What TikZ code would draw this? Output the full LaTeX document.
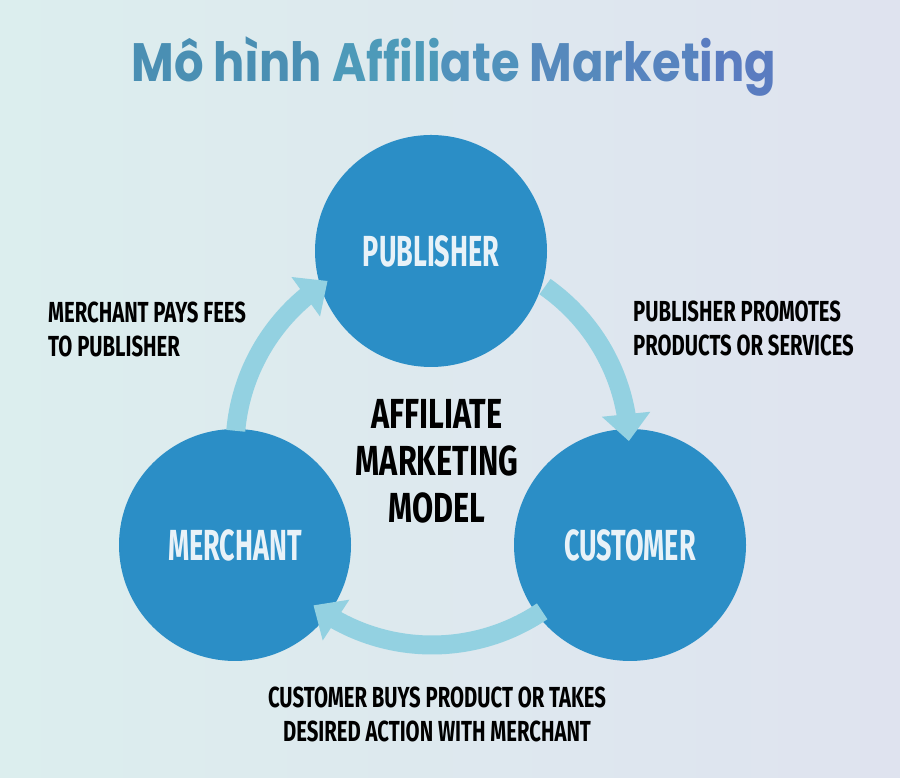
\documentclass[tikz,border=0pt]{standalone}
\usepackage{fontspec}
\usepackage{tikz}
\usetikzlibrary{arrows.meta,bending,calc,positioning}
\setmainfont{Fira Sans}
\newfontfamily\condfont{Fira Sans}[FakeStretch=0.62]
\newfontfamily\notefont{Fira Sans}[FakeStretch=0.70]
\newfontfamily\modelfont{Fira Sans}[FakeStretch=0.73]
\newfontfamily\titlefont{Poppins}[FakeStretch=0.86]
\definecolor{partyblue}{HTML}{2B8EC6}
\definecolor{flowblue}{HTML}{93D1E1}
\definecolor{bgleft}{HTML}{DCEEEE}
\definecolor{bgright}{HTML}{DFE3EF}
\definecolor{labelwhite}{HTML}{E8F2F8}
\definecolor{titleA}{HTML}{4A8FB3}
\definecolor{titleB}{HTML}{4D9AB9}
\definecolor{titleC}{HTML}{5092BC}
\definecolor{titleD}{HTML}{5689BC}
\definecolor{titleE}{HTML}{5784BF}
\definecolor{titleF}{HTML}{5A7CC0}
\tikzstyle{party}=[circle,fill=partyblue,minimum size=232pt,inner sep=0pt,text=labelwhite,font=\condfont\bfseries\fontsize{43.5}{48}\selectfont]
\tikzstyle{flow}=[flowblue,line width=19pt,-{Triangle[width=47pt,length=27pt]}]
\tikzstyle{note}=[inner sep=0pt,text=black,font=\notefont\bfseries\fontsize{29}{33.5}\selectfont]

\begin{document}
\begin{tikzpicture}[x=1pt,y=1pt]
  \shade[left color=bgleft,right color=bgright] (0,0) rectangle (900,778);
  \useasboundingbox (0,0) rectangle (900,778);

  \node[inner sep=0pt,anchor=base,font=\titlefont\bfseries\fontsize{54}{60}\selectfont] (title) at (454,696)
    {\textcolor{titleA}{Mô hình} \textcolor{titleB}{Affili}\textcolor{titleC}{ate} \textcolor{titleD}{Mar}\textcolor{titleE}{ket}\textcolor{titleF}{ing}};

  \node[party] (publisher) at (431,527) {PUBLISHER};
  \node[party] (merchant)  at (235,233) {MERCHANT};
  \node[party] (customer)  at (630,233) {CUSTOMER};
  \coordinate (hub) at (432,330);

  \draw[flow] ($(hub)+(55:197)$)  arc[start angle=55,end angle=2,radius=197];
  \draw[flow] ($(hub)+(-56:197)$) arc[start angle=-56,end angle=-127,radius=197];
  \draw[flow] ($(hub)+(175:197)$) arc[start angle=175,end angle=122,radius=197];

  \node[note,anchor=north west,align=left] (fees) at (48,476) {MERCHANT PAYS FEES\\TO PUBLISHER};
  \node[note,anchor=north west,align=left] (promotes) at (633,477) {PUBLISHER PROMOTES\\PRODUCTS OR SERVICES};
  \node[note,anchor=north,align=center] (buys) at (437,91) {CUSTOMER BUYS PRODUCT OR TAKES\\DESIRED ACTION WITH MERCHANT};
  \node[note,anchor=north,align=center,font=\modelfont\bfseries\fontsize{42}{47}\selectfont] (model) at (437,379) {AFFILIATE\\MARKETING\\MODEL};
\end{tikzpicture}
\end{document}
